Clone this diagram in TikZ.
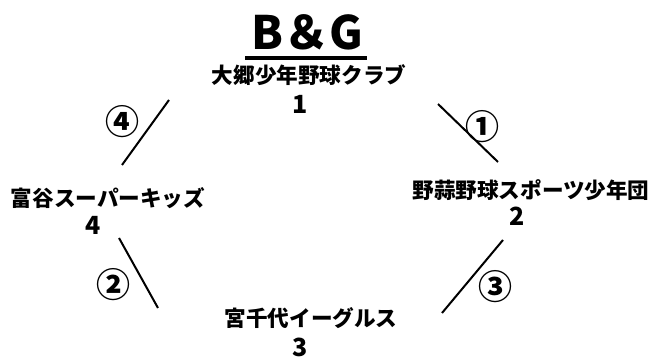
\documentclass[tikz,border=0pt]{standalone}
\usepackage{fontspec}
\setmainfont{Noto Sans CJK JP}
\usetikzlibrary{positioning}

\begin{document}
\begin{tikzpicture}[x=1pt,y=1pt,
	team/.style={font=\bfseries\fontsize{21.6}{24}\selectfont, inner sep=0pt},
	seed/.style={font=\bfseries\fontsize{25}{27}\selectfont, inner sep=0pt},
	match/.style={font=\bfseries\fontsize{34}{36}\selectfont, inner sep=0pt},
	bout/.style={draw, line width=2pt}]
	\useasboundingbox (0,0) rectangle (655,358);

	\node[font=\bfseries\fontsize{46}{48}\selectfont, inner sep=0pt] (title) at (307,326) {B＆G};
	\coordinate (ul) at (245,300);
	\coordinate (ur) at (367,300);
	\draw[line width=4pt] (ul) -- (ur);

	\node[team] (t1) at (309,283) {大郷少年野球クラブ};
	\node[seed] (s1) at (300,254) {1};
	\node[team] (t2) at (531,168) {野蒜野球スポーツ少年団};
	\node[seed] (s2) at (517,142) {2};
	\node[team] (t3) at (311,40) {宮千代イーグルス};
	\node[seed] (s3) at (300,11) {3};
	\node[team] (t4) at (108,160) {富谷スーパーキッズ};
	\node[seed] (s4) at (93,133) {4};

	% the four bouts
	\coordinate (a1) at (438,254); \coordinate (b1) at (498,196);
	\coordinate (a2) at (119,120); \coordinate (b2) at (158,50);
	\coordinate (a3) at (503,118); \coordinate (b3) at (442,45);
	\coordinate (a4) at (122,193); \coordinate (b4) at (169,258);

	\path[bout] (a1) -- (b1);
	\path[bout] (a2) -- (b2);
	\path[bout] (a3) -- (b3);
	\path[bout] (a4) -- (b4);

	\node[match] (m1) at (482,231) {①};
	\node[match] (m2) at (113,73) {②};
	\node[match] (m3) at (495,71) {③};
	\node[match] (m4) at (122,236) {④};

\end{tikzpicture}
\end{document}
